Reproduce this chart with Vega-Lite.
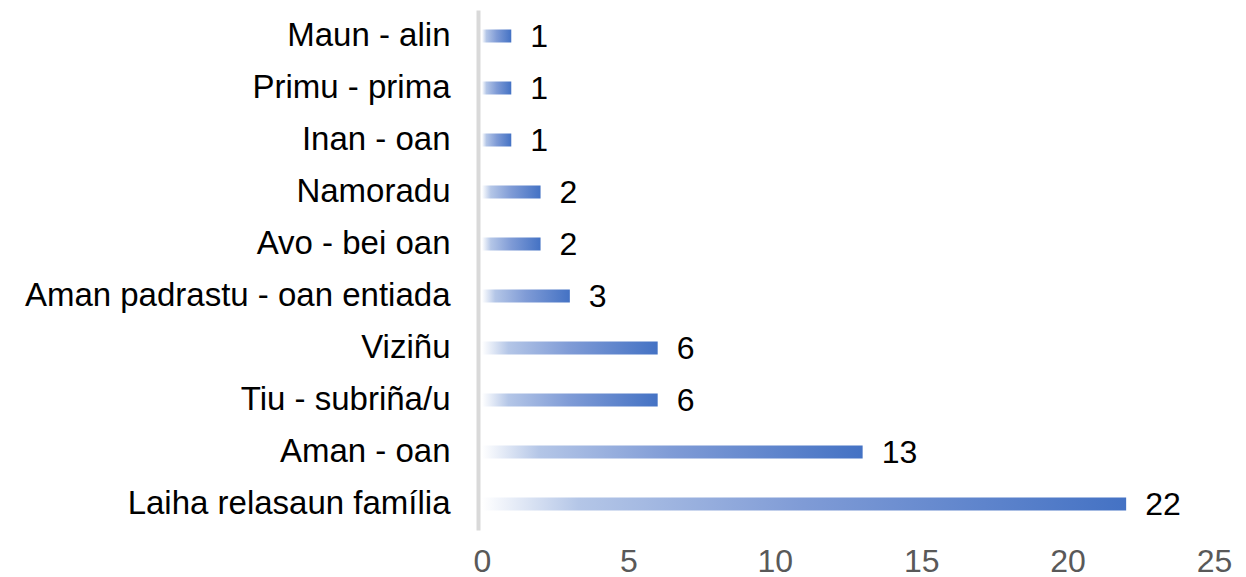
{
  "$schema": "https://vega.github.io/schema/vega-lite/v6.json",
  "autosize": "none",
  "padding": {"left": 482, "top": 10, "right": 32, "bottom": 47},
  "width": 732,
  "height": 520,
  "background": "white",
  "data": {
    "values": [
      {"category": "Maun - alin", "value": 1},
      {"category": "Primu - prima", "value": 1},
      {"category": "Inan - oan", "value": 1},
      {"category": "Namoradu", "value": 2},
      {"category": "Avo - bei oan", "value": 2},
      {"category": "Aman padrastu - oan entiada", "value": 3},
      {"category": "Viziñu", "value": 6},
      {"category": "Tiu - subriña/u", "value": 6},
      {"category": "Aman - oan", "value": 13},
      {"category": "Laiha relasaun família", "value": 22}
    ]
  },
  "encoding": {
    "y": {
      "field": "category",
      "type": "nominal",
      "sort": null,
      "scale": {"paddingInner": 0.75, "paddingOuter": 0.375},
      "axis": {
        "title": null,
        "ticks": false,
        "offset": 4,
        "domainColor": "#d9d9d9",
        "domainWidth": 4,
        "labelPadding": 28,
        "labelFont": "Liberation Sans",
        "labelFontSize": 33,
        "labelColor": "#000000",
        "labelLimit": 600
      }
    },
    "x": {
      "field": "value",
      "type": "quantitative",
      "scale": {"domain": [0, 25], "nice": false},
      "axis": {
        "title": null,
        "values": [0, 5, 10, 15, 20, 25],
        "grid": false,
        "domain": false,
        "ticks": false,
        "labelPadding": 16,
        "labelFont": "Liberation Sans",
        "labelFontSize": 32,
        "labelColor": "#595959",
        "labelFlush": false
      }
    }
  },
  "layer": [
    {
      "mark": {
        "type": "bar",
        "fill": {
          "gradient": "linear",
          "x1": 0, "y1": 0, "x2": 1, "y2": 0,
          "stops": [
            {"offset": 0, "color": "#ffffff"},
            {"offset": 0.15, "color": "#b4c6e7"},
            {"offset": 0.5, "color": "#7f9bd6"},
            {"offset": 1, "color": "#4472c4"}
          ]
        }
      }
    },
    {
      "mark": {
        "type": "text",
        "align": "left",
        "baseline": "middle",
        "dx": 19,
        "dy": 1,
        "font": "Liberation Sans",
        "fontSize": 32,
        "color": "#000000"
      },
      "encoding": {"text": {"field": "value", "type": "quantitative"}}
    }
  ],
  "config": {"view": {"stroke": null}}
}
